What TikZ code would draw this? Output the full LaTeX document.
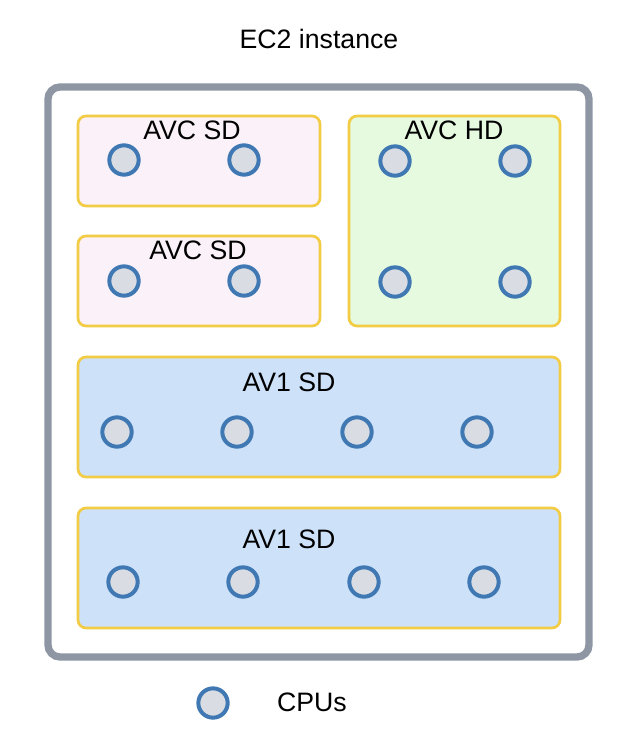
\documentclass[tikz,border=0pt]{standalone}
\usepackage{fontspec}
\setmainfont{Liberation Sans}
\usetikzlibrary{positioning}
\definecolor{edgegray}{HTML}{8E96A4}
\definecolor{boxyellow}{HTML}{F2CC45}
\definecolor{pinkfill}{HTML}{FBF1F8}
\definecolor{greenfill}{HTML}{E5FADF}
\definecolor{bluefill}{HTML}{CDE1F9}
\definecolor{cpublue}{HTML}{3F78B2}
\definecolor{cpufill}{HTML}{D9DDE3}
\tikzstyle{instance} = [rectangle, draw=edgegray, line width=5.5pt, rounded corners=9pt, fill=white]
\tikzstyle{group} = [rectangle, draw=boxyellow, line width=2pt, rounded corners=6pt]
\tikzstyle{cpu} = [circle, draw=cpublue, fill=cpufill, line width=3pt, minimum size=22pt, inner sep=0pt]
\tikzstyle{tag} = [font=\fontsize{20}{23}\selectfont, inner sep=0pt, text height=14.3pt, text depth=0pt]

\begin{document}
\begin{tikzpicture}[x=0.75pt, y=-0.75pt]
    \useasboundingbox (0,0) rectangle (640,738);
    \node[tag] (title) at (319,39) {EC2 instance};
    \draw[instance] (48,87) rectangle (589,657);
    % the four groups of the instance
    \draw[group, fill=pinkfill] (78,116) rectangle (320,206);
    \draw[group, fill=pinkfill] (78,236) rectangle (320,326);
    \draw[group, fill=greenfill] (349,116) rectangle (560,326);
    \draw[group, fill=bluefill] (78,357) rectangle (560,477);
    \draw[group, fill=bluefill] (78,508) rectangle (560,628);
    \node[tag] (SDa) at (192,130) {AVC SD};
    \node[tag] (SDb) at (198,250) {AVC SD};
    \node[tag] (HD) at (454,130) {AVC HD};
    \node[tag] (AVa) at (289,382) {AV1 SD};
    \node[tag] (AVb) at (289,539) {AV1 SD};
    % cpus
    \node[cpu] (SDa1) at (124,160) {};
    \node[cpu] (SDa2) at (244,160) {};
    \node[cpu] (SDb1) at (124,281) {};
    \node[cpu] (SDb2) at (244,281) {};
    \node[cpu] (HD1) at (395,161) {};
    \node[cpu] (HD2) at (515,161) {};
    \node[cpu] (HD3) at (395,282) {};
    \node[cpu] (HD4) at (515,282) {};
    \foreach \x [count=\i] in {117,237,357,477}
        \node[cpu] (AVa\i) at (\x,432) {};
    \foreach \x [count=\i] in {123,243,364,484}
        \node[cpu] (AVb\i) at (\x,582) {};
    % legend
    \node[cpu] (key) at (213,703) {};
    \node[tag] (keytext) at (312,702) {CPUs};
\end{tikzpicture}
\end{document}
